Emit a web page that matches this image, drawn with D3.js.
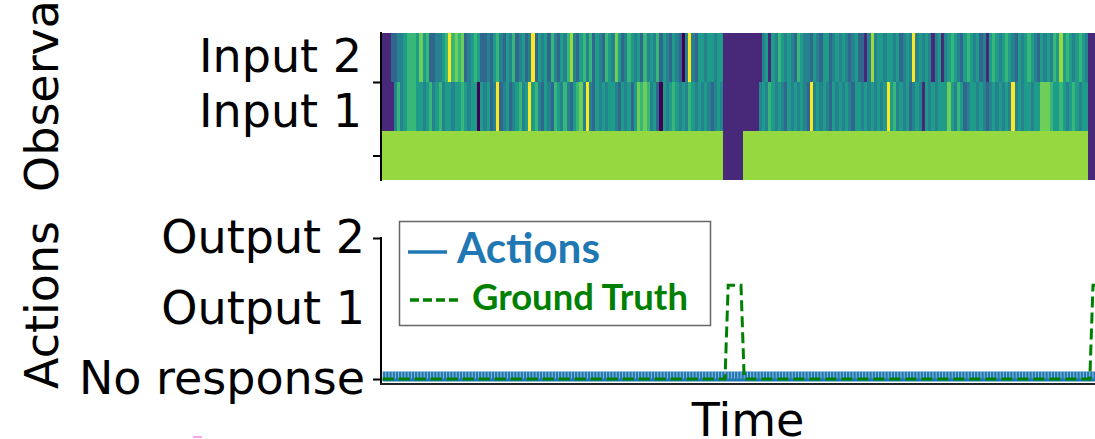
<!DOCTYPE html>
<html>
<head>
<meta charset="utf-8">
<script src="https://cdn.jsdelivr.net/npm/d3@7"></script>
<style>
  body { margin: 0; background: #fff; }
  svg { display: block; }
  .lbl { font-family: "DejaVu Sans", sans-serif; font-size: 46px; fill: #000; }
  .leg { font-family: Lato, "Open Sans", sans-serif; font-weight: bold; }
</style>
</head>
<body>
<svg id="chart" width="1095" height="439"></svg>
<script>
// ---- data ----
const cols = 224;  // time steps visible in the crop
const inputLabels = ["Input 2", "Input 1"];
const inputLabelRows = [0.46, 1.58];      // where the labels sit, in row units
const inputTickRows = [1, 2.5];
const actionLabels = ["No response", "Output 1", "Output 2"];
const actionTicks = [0, 2];

// one digit per time step, 0 = dark purple ... 9 = yellow
const input2Levels =
  "1113344566657563" + "3445696767345653" + "3435643546345349" + "3545364354684356" +
  "4635436547534654" + "5364546354354304" + "9435545545511111" + "1111111451546545" +
  "4365443543553454" + "5434533148455455" + "4534549454541451" + "4565435654534156" +
  "5456543545654354" + "5465856545654111";
const input1Levels =
  "1111464566655456" + "4564554556545505" + "4534934534564595" + "6435436546435674" +
  "9435454554354535" + "7676453054565454" + "6545454345411111" + "1111114546545435" +
  "4545439454543545" + "4543554545454595" + "6454534541545455" + "5754653455454345" +
  "4545494545545577" + "7655654565455111";
const digitLevel = [0, 0.11, 0.22, 0.33, 0.44, 0.55, 0.67, 0.78, 0.85, 1];

// [count, value] runs
const stateRuns = [[107, 0.84], [6, 0.11], [108, 0.84], [3, 0.11]];
const truthRuns = [[108, 0], [5, 1.33], [109, 0], [2, 1.33]];
const actionRuns = [[224, 0.035]];

const expand = runs => runs.flatMap(([n, v]) => Array(n).fill(v));
const rows = [
  input2Levels.split("").map(c => digitLevel[+c]),
  input1Levels.split("").map(c => digitLevel[+c]),
  expand(stateRuns)
];
const truth = expand(truthRuns);
const actions = expand(actionRuns);

const svg = d3.select("#chart");

const x = d3.scaleLinear().domain([0, cols]).range([381, 381 + cols * 3.2]);
const rowY = d3.scaleLinear().domain([0, 3]).range([33, 180]);
const yAct = d3.scaleLinear().domain([0, 2]).range([379, 238]);
const cw = x(1) - x(0);

// ---- top panel: heatmap ----
rows.forEach((vals, r) => {
  svg.append("g").attr("shape-rendering", "crispEdges")
    .selectAll("rect").data(vals).enter().append("rect")
    .attr("x", (d, i) => x(i)).attr("y", rowY(r))
    .attr("width", cw + 0.4).attr("height", rowY(r + 1) - rowY(r))
    .attr("fill", d => d3.interpolateViridis(d));
});

svg.append("line").attr("x1", 381).attr("x2", 381).attr("y1", 32).attr("y2", 181)
  .attr("stroke", "#000").attr("stroke-width", 2);
svg.append("g").attr("transform", "translate(381,0)")
  .call(d3.axisLeft(rowY).tickValues(inputTickRows).tickSize(8).tickSizeOuter(0).tickFormat(""))
  .call(g => g.select(".domain").remove())
  .call(g => g.selectAll(".tick line").attr("stroke", "#000").attr("stroke-width", 2));
svg.selectAll(".inlbl").data(inputLabels).enter().append("text")
  .attr("class", "lbl").attr("text-anchor", "end")
  .attr("x", 362).attr("y", (d, i) => rowY(inputLabelRows[i])).attr("dy", "0.36em")
  .text(d => d);

svg.append("text").attr("class", "lbl")
  .attr("transform", "translate(58,192) rotate(-90)")
  .attr("text-anchor", "start").text("Observations");

// ---- bottom panel: actions vs ground truth ----
const line = d3.line().x((d, i) => x(i + 0.5)).y(d => yAct(d));

svg.append("path").datum(actions).attr("d", line)
  .attr("fill", "none").attr("stroke", "#1f77b4").attr("stroke-width", 10);
svg.append("g").selectAll("line").data(actions).enter().append("line")
  .attr("x1", (d, i) => x(i + 0.5)).attr("x2", (d, i) => x(i + 0.5))
  .attr("y1", d => yAct(d) - 5).attr("y2", d => yAct(d) + 2)
  .attr("stroke", "#cfe2f1").attr("stroke-width", 1).attr("opacity", 0.7);

svg.append("path").datum(truth).attr("d", line)
  .attr("fill", "none").attr("stroke", "#008000").attr("stroke-width", 3)
  .attr("stroke-dasharray", "11,5");

svg.append("line").attr("x1", 381).attr("x2", 381).attr("y1", 237).attr("y2", 385)
  .attr("stroke", "#000").attr("stroke-width", 2);
svg.append("line").attr("x1", 380).attr("x2", 1095).attr("y1", 384).attr("y2", 384)
  .attr("stroke", "#222").attr("stroke-width", 2);
svg.append("g").attr("transform", "translate(381,0)")
  .call(d3.axisLeft(yAct).tickValues(actionTicks).tickSize(8).tickSizeOuter(0).tickFormat(""))
  .call(g => g.select(".domain").remove())
  .call(g => g.selectAll(".tick line").attr("stroke", "#000").attr("stroke-width", 2));
svg.selectAll(".aclbl").data(actionLabels).enter().append("text")
  .attr("class", "lbl").attr("text-anchor", "end")
  .attr("x", 365).attr("y", (d, i) => yAct(i)).attr("dy", "0.33em")
  .text(d => d);

svg.append("text").attr("class", "lbl")
  .attr("transform", "translate(58,305) rotate(-90)")
  .attr("text-anchor", "middle").text("Actions");
svg.append("text").attr("class", "lbl").attr("text-anchor", "middle")
  .attr("x", 748).attr("y", 436).text("Time");

// legend
const leg = svg.append("g");
leg.append("rect").attr("x", 399.5).attr("y", 221.5).attr("width", 311).attr("height", 104)
  .attr("fill", "#fff").attr("stroke", "#666").attr("stroke-width", 1.5);
leg.append("line").attr("x1", 408).attr("x2", 447).attr("y1", 252).attr("y2", 252)
  .attr("stroke", "#1f77b4").attr("stroke-width", 3.5);
leg.append("line").attr("x1", 410).attr("x2", 458).attr("y1", 300).attr("y2", 300)
  .attr("stroke", "#008000").attr("stroke-width", 3.5).attr("stroke-dasharray", "9,4");
function fitText(t, w) {
  const len = t.node().getComputedTextLength();
  const fs = parseFloat(t.attr("font-size"));
  t.attr("font-size", fs * w / len);
}
const t1 = leg.append("text").attr("class", "leg").attr("x", 457).attr("y", 263)
  .attr("font-size", 40).attr("fill", "#1f77b4").text("Actions");
fitText(t1, 143);
const t2 = leg.append("text").attr("class", "leg").attr("x", 472).attr("y", 310)
  .attr("font-size", 36).attr("fill", "#008000").text("Ground Truth");
fitText(t2, 216);

// small pink mark at the bottom edge
svg.append("rect").attr("x", 193).attr("y", 436).attr("width", 9).attr("height", 2)
  .attr("fill", "#f7a8f0");
</script>
</body>
</html>
